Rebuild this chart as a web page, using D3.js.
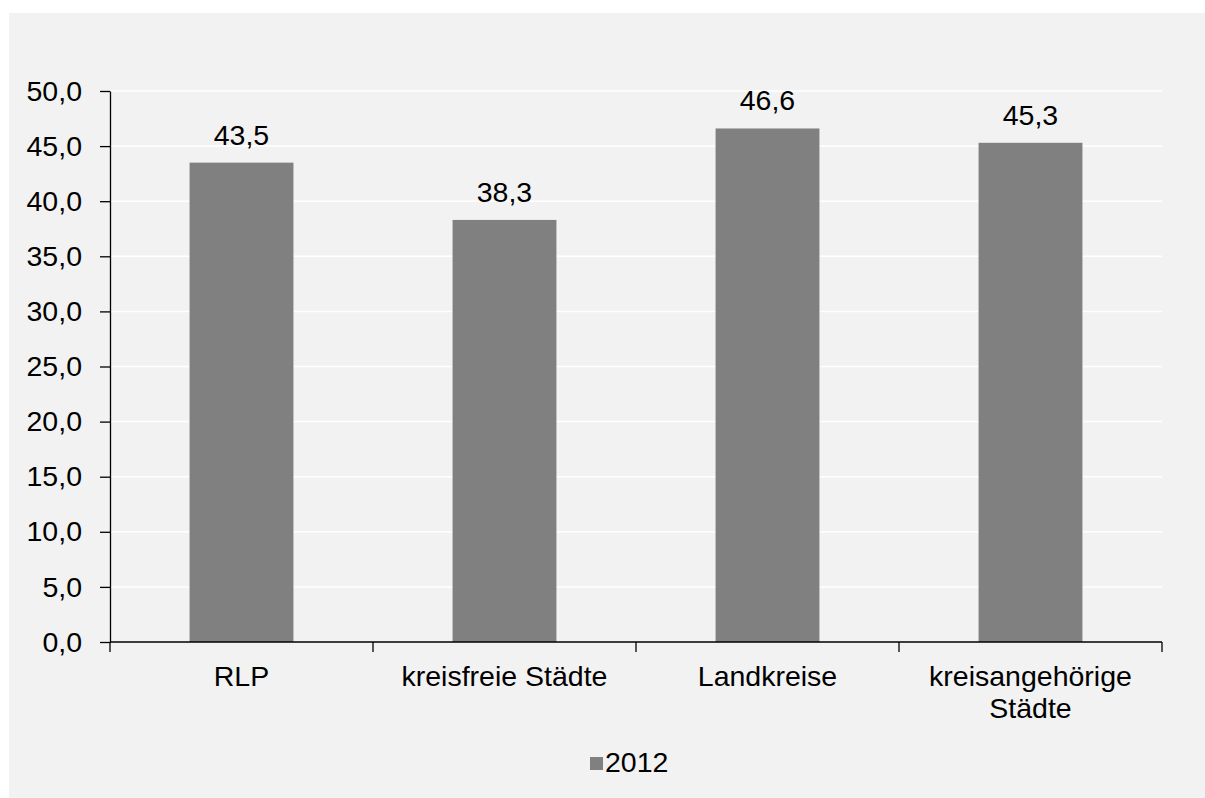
<!DOCTYPE html>
<html><head><meta charset="utf-8">
<script src="https://cdn.jsdelivr.net/npm/d3@7"></script>
<style>
html,body{margin:0;padding:0;background:#fff;}
svg{display:block;font-family:"Liberation Sans",Arial,sans-serif;}
</style></head>
<body><svg id="chart" width="1205" height="798"></svg>
<script>
const categories = [["RLP"], ["kreisfreie Städte"], ["Landkreise"], ["kreisangehörige", "Städte"]];
const values2012 = [43.5, 38.3, 46.6, 45.3];
const yTicks = [0, 5, 10, 15, 20, 25, 30, 35, 40, 45, 50];
const seriesName = "2012";

(function () {
const svg = d3.select("#chart");
const fmt = v => d3.format(".1f")(v).replace(".", ",");
const pL = 110, pR = 1162, pT = 91, pB = 642;
const fs = 28.5;

svg.append("rect").attr("x", 9).attr("y", 13).attr("width", 1196).attr("height", 785).attr("fill", "#f2f2f2");

const x = d3.scaleBand().domain(d3.range(categories.length)).range([pL, pR]).paddingInner(0.605).paddingOuter(0.3025);
const y = d3.scaleLinear().domain([0, 50]).range([pB, pT]);

// gridlines
svg.append("g").selectAll("line").data(yTicks.filter(d => d > 0)).join("line")
  .attr("x1", pL).attr("x2", pR)
  .attr("y1", d => y(d)).attr("y2", d => y(d))
  .attr("stroke", "#ffffff").attr("stroke-width", 1.5);

// bars
svg.append("g").selectAll("rect").data(values2012).join("rect")
  .attr("x", (d, i) => x(i)).attr("width", x.bandwidth())
  .attr("y", d => y(d)).attr("height", d => pB - y(d))
  .attr("fill", "#808080");

// value labels
svg.append("g").selectAll("text").data(values2012).join("text")
  .attr("x", (d, i) => x(i) + x.bandwidth() / 2)
  .attr("y", d => y(d) - 18)
  .attr("text-anchor", "middle").attr("font-size", fs).attr("fill", "#000")
  .text(d => fmt(d));

// y axis
const yAxis = d3.axisLeft(y).tickValues(yTicks).tickFormat(fmt).tickSize(10).tickPadding(18).tickSizeOuter(0);
const ga = svg.append("g").attr("transform", `translate(${pL},0)`).call(yAxis);
ga.select(".domain").attr("stroke", "#000").attr("stroke-width", 1.3);
ga.selectAll(".tick line").attr("stroke", "#000").attr("stroke-width", 1.3);
ga.selectAll(".tick text").attr("font-size", fs).attr("font-family", "Liberation Sans, Arial, sans-serif").attr("fill", "#000");

// x axis
const boundaries = d3.range(categories.length + 1).map(i => pL + i * (pR - pL) / categories.length);
svg.append("line").attr("x1", pL).attr("x2", pR).attr("y1", pB).attr("y2", pB).attr("stroke", "#000").attr("stroke-width", 1.3);
svg.append("g").selectAll("line").data(boundaries).join("line")
  .attr("x1", d => d).attr("x2", d => d).attr("y1", pB).attr("y2", pB + 10)
  .attr("stroke", "#000").attr("stroke-width", 1.3);

const xl = svg.append("g").selectAll("text").data(categories).join("text")
  .attr("x", (d, i) => x(i) + x.bandwidth() / 2)
  .attr("y", 686)
  .attr("text-anchor", "middle").attr("font-size", fs).attr("fill", "#000");
xl.selectAll("tspan").data(d => d).join("tspan")
  .attr("x", function() { return d3.select(this.parentNode).attr("x"); })
  .attr("dy", (d, i) => i === 0 ? 0 : 32)
  .text(d => d);

// legend
svg.append("rect").attr("x", 590).attr("y", 757).attr("width", 13).attr("height", 13).attr("fill", "#808080");
svg.append("text").attr("x", 605).attr("y", 772).attr("font-size", fs).attr("fill", "#000").text(seriesName);
})();
</script></body></html>
